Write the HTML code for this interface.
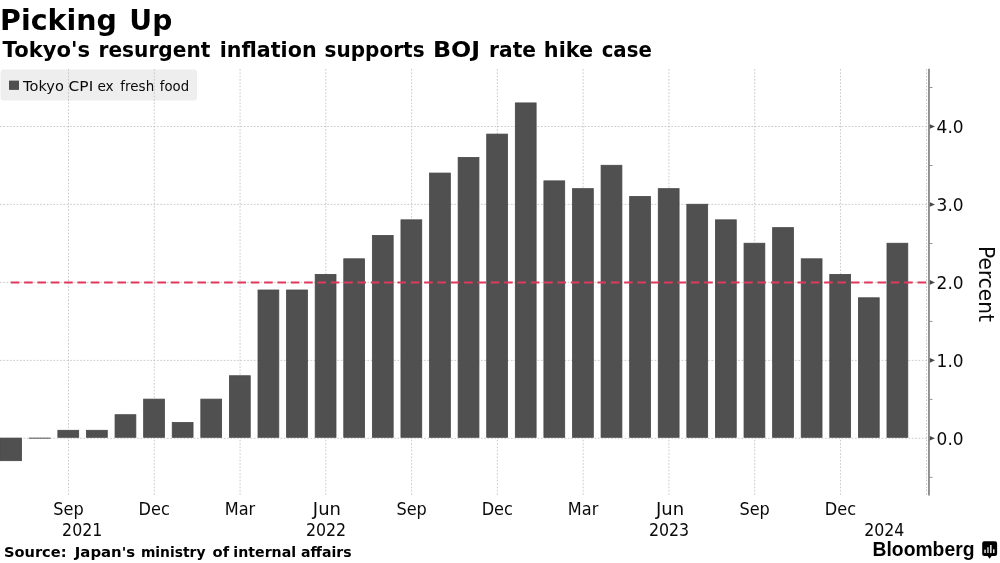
<!DOCTYPE html>
<html lang="en"><head><meta charset="utf-8"><title>Picking Up</title>
<style>
html,body{margin:0;padding:0;background:#fff;}
body{width:1000px;height:563px;overflow:hidden;position:relative;font-family:"DejaVu Sans","Liberation Sans",sans-serif;}
svg{position:absolute;left:0;top:0;display:block;}
.t{font-family:"DejaVu Sans","Liberation Sans",sans-serif;font-weight:bold;fill:#000;}
.c{font-family:"DejaVu Sans Condensed","Liberation Sans",sans-serif;fill:#0a0a0a;font-size:18.5px;}
.l{font-family:"DejaVu Sans","Liberation Sans",sans-serif;fill:#0a0a0a;}
.g{stroke:#bcbcbc;stroke-width:0.8;stroke-dasharray:1.67 1.67;fill:none;}
.b{fill:#505050;}
.s{stroke:#474747;stroke-width:0.8;}
</style></head><body>
<svg width="1000" height="563" viewBox="0 0 1000 563">
<rect x="0" y="0" width="1000" height="563" fill="#ffffff"/>
<rect x="0.6" y="69.5" width="196.4" height="31" rx="3" ry="3" fill="#eeeeee"/>
<line class="g" x1="68.53" y1="69" x2="68.53" y2="496"/>
<line class="g" x1="154.30" y1="69" x2="154.30" y2="496"/>
<line class="g" x1="240.07" y1="69" x2="240.07" y2="496"/>
<line class="g" x1="325.84" y1="69" x2="325.84" y2="496"/>
<line class="g" x1="411.61" y1="69" x2="411.61" y2="496"/>
<line class="g" x1="497.38" y1="69" x2="497.38" y2="496"/>
<line class="g" x1="583.15" y1="69" x2="583.15" y2="496"/>
<line class="g" x1="668.92" y1="69" x2="668.92" y2="496"/>
<line class="g" x1="754.69" y1="69" x2="754.69" y2="496"/>
<line class="g" x1="840.46" y1="69" x2="840.46" y2="496"/>
<line class="g" x1="926.5" y1="69" x2="926.5" y2="496"/>
<line class="g" x1="0" y1="126.5" x2="928" y2="126.5"/>
<line class="g" x1="0" y1="204.4" x2="928" y2="204.4"/>
<line class="g" x1="0" y1="282.4" x2="928" y2="282.4"/>
<line class="g" x1="0" y1="360.4" x2="928" y2="360.4"/>
<line class="g" x1="0" y1="438.3" x2="928" y2="438.3"/>
<rect class="b s" x="-0.10" y="438.10" width="21.60" height="22.58"/>
<rect class="b" x="28.89" y="437.65" width="21.60" height="1"/>
<rect class="b s" x="57.88" y="430.30" width="20.80" height="7.00"/>
<rect class="b s" x="86.47" y="430.30" width="20.80" height="7.00"/>
<rect class="b s" x="115.06" y="414.71" width="20.80" height="22.58"/>
<rect class="b s" x="143.65" y="399.12" width="20.80" height="38.18"/>
<rect class="b s" x="172.24" y="422.51" width="20.80" height="14.79"/>
<rect class="b s" x="200.83" y="399.12" width="20.80" height="38.18"/>
<rect class="b s" x="229.42" y="375.74" width="20.80" height="61.56"/>
<rect class="b s" x="258.01" y="290.00" width="20.80" height="147.30"/>
<rect class="b s" x="286.60" y="290.00" width="20.80" height="147.30"/>
<rect class="b s" x="315.19" y="274.40" width="20.80" height="162.89"/>
<rect class="b s" x="343.78" y="258.81" width="20.80" height="178.49"/>
<rect class="b s" x="372.37" y="235.43" width="20.80" height="201.87"/>
<rect class="b s" x="400.96" y="219.84" width="20.80" height="217.46"/>
<rect class="b s" x="429.55" y="173.07" width="20.80" height="264.23"/>
<rect class="b s" x="458.14" y="157.48" width="20.80" height="279.82"/>
<rect class="b s" x="486.73" y="134.10" width="20.80" height="303.20"/>
<rect class="b s" x="515.32" y="102.92" width="20.80" height="334.38"/>
<rect class="b s" x="543.91" y="180.87" width="20.80" height="256.44"/>
<rect class="b s" x="572.50" y="188.66" width="20.80" height="248.64"/>
<rect class="b s" x="601.09" y="165.28" width="20.80" height="272.02"/>
<rect class="b s" x="629.68" y="196.46" width="20.80" height="240.84"/>
<rect class="b s" x="658.27" y="188.66" width="20.80" height="248.64"/>
<rect class="b s" x="686.86" y="204.25" width="20.80" height="233.05"/>
<rect class="b s" x="715.45" y="219.84" width="20.80" height="217.46"/>
<rect class="b s" x="744.04" y="243.23" width="20.80" height="194.07"/>
<rect class="b s" x="772.63" y="227.63" width="20.80" height="209.67"/>
<rect class="b s" x="801.22" y="258.81" width="20.80" height="178.49"/>
<rect class="b s" x="829.81" y="274.40" width="20.80" height="162.89"/>
<rect class="b s" x="858.40" y="297.79" width="20.80" height="139.51"/>
<rect class="b s" x="886.99" y="243.23" width="20.80" height="194.07"/>
<line x1="10.8" y1="282.40" x2="926.4" y2="282.40" stroke="#e0395d" stroke-width="2" stroke-dasharray="8.6 4.733"/>
<rect x="928.1" y="68.8" width="1.75" height="426.7" fill="#858585"/>
<rect x="929.8" y="476.83" width="2.7" height="0.9" fill="#858585"/>
<path d="M929.8 436.00 L935 438.30 L929.8 440.60 Z" fill="#484848"/>
<text class="c" x="936.6" y="444.6" textLength="27" lengthAdjust="spacingAndGlyphs">0.0</text>
<rect x="929.8" y="398.88" width="2.7" height="0.9" fill="#858585"/>
<path d="M929.8 358.05 L935 360.35 L929.8 362.65 Z" fill="#484848"/>
<text class="c" x="936.6" y="366.7" textLength="27" lengthAdjust="spacingAndGlyphs">1.0</text>
<rect x="929.8" y="320.93" width="2.7" height="0.9" fill="#858585"/>
<path d="M929.8 280.10 L935 282.40 L929.8 284.70 Z" fill="#484848"/>
<text class="c" x="936.6" y="288.7" textLength="27" lengthAdjust="spacingAndGlyphs">2.0</text>
<rect x="929.8" y="242.98" width="2.7" height="0.9" fill="#858585"/>
<path d="M929.8 202.15 L935 204.45 L929.8 206.75 Z" fill="#484848"/>
<text class="c" x="936.6" y="210.8" textLength="27" lengthAdjust="spacingAndGlyphs">3.0</text>
<rect x="929.8" y="165.03" width="2.7" height="0.9" fill="#858585"/>
<path d="M929.8 124.20 L935 126.50 L929.8 128.80 Z" fill="#484848"/>
<text class="c" x="936.6" y="132.8" textLength="27" lengthAdjust="spacingAndGlyphs">4.0</text>
<rect x="929.8" y="87.07" width="2.7" height="0.9" fill="#858585"/>
<text class="l" font-size="21" transform="translate(978.8 246) rotate(90)" textLength="76" lengthAdjust="spacingAndGlyphs">Percent</text>
<text class="c" transform="translate(68.5 514.7) scale(0.97 1)" text-anchor="middle">Sep</text>
<text class="c" transform="translate(154.2 514.7) scale(0.97 1)" text-anchor="middle">Dec</text>
<text class="c" transform="translate(240.0 514.7) scale(0.97 1)" text-anchor="middle">Mar</text>
<text class="c" transform="translate(326.9 514.7) scale(1.08 1)" text-anchor="middle">Jun</text>
<text class="c" transform="translate(411.6 514.7) scale(0.97 1)" text-anchor="middle">Sep</text>
<text class="c" transform="translate(497.3 514.7) scale(0.97 1)" text-anchor="middle">Dec</text>
<text class="c" transform="translate(583.1 514.7) scale(0.97 1)" text-anchor="middle">Mar</text>
<text class="c" transform="translate(670.0 514.7) scale(1.08 1)" text-anchor="middle">Jun</text>
<text class="c" transform="translate(754.6 514.7) scale(0.97 1)" text-anchor="middle">Sep</text>
<text class="c" transform="translate(840.4 514.7) scale(0.97 1)" text-anchor="middle">Dec</text>
<text class="c" transform="translate(82.2 535.5) scale(0.95 1)" text-anchor="middle">2021</text>
<text class="c" transform="translate(326.0 535.5) scale(0.95 1)" text-anchor="middle">2022</text>
<text class="c" transform="translate(669.0 535.5) scale(0.95 1)" text-anchor="middle">2023</text>
<text class="c" transform="translate(884.3 535.5) scale(0.95 1)" text-anchor="middle">2024</text>
<rect x="9" y="80.6" width="10" height="9.3" fill="#4f4f4f"/>
<text class="l" font-size="14.4" y="90.7"><tspan x="23.10" textLength="40.81" lengthAdjust="spacingAndGlyphs">Tokyo</tspan> <tspan x="68.60" textLength="24.63" lengthAdjust="spacingAndGlyphs">CPI</tspan> <tspan x="97.39" textLength="16.31" lengthAdjust="spacingAndGlyphs">ex</tspan> <tspan x="120.37" textLength="33.80" lengthAdjust="spacingAndGlyphs">fresh</tspan> <tspan x="159.77" textLength="29.31" lengthAdjust="spacingAndGlyphs">food</tspan></text>
<text class="t" font-size="28" y="30"><tspan x="0.06" textLength="116.75" lengthAdjust="spacingAndGlyphs">Picking</tspan> <tspan x="129.29" textLength="43.00" lengthAdjust="spacingAndGlyphs">Up</tspan></text>
<text class="t" font-size="20" transform="translate(0 57) scale(1 1.055)"><tspan x="2.60" textLength="87.49" lengthAdjust="spacingAndGlyphs">Tokyo's</tspan> <tspan x="98.49" textLength="111.89" lengthAdjust="spacingAndGlyphs">resurgent</tspan> <tspan x="219.70" textLength="96.91" lengthAdjust="spacingAndGlyphs">inflation</tspan> <tspan x="324.60" textLength="100.00" lengthAdjust="spacingAndGlyphs">supports</tspan> <tspan x="432.92" textLength="47.19" lengthAdjust="spacingAndGlyphs">BOJ</tspan> <tspan x="489.09" textLength="46.91" lengthAdjust="spacingAndGlyphs">rate</tspan> <tspan x="543.84" textLength="49.32" lengthAdjust="spacingAndGlyphs">hike</tspan> <tspan x="601.66" textLength="50.16" lengthAdjust="spacingAndGlyphs">case</tspan></text>
<text class="t" font-size="14" y="556.7"><tspan x="3.96" textLength="62.58" lengthAdjust="spacingAndGlyphs">Source:</tspan> <tspan x="74.81" textLength="60.35" lengthAdjust="spacingAndGlyphs">Japan's</tspan> <tspan x="140.91" textLength="64.55" lengthAdjust="spacingAndGlyphs">ministry</tspan> <tspan x="212.57" textLength="16.53" lengthAdjust="spacingAndGlyphs">of</tspan> <tspan x="233.39" textLength="62.70" lengthAdjust="spacingAndGlyphs">internal</tspan> <tspan x="301.00" textLength="50.54" lengthAdjust="spacingAndGlyphs">affairs</tspan></text>
<text x="872.5" y="556" font-family="'Liberation Sans',sans-serif" font-weight="bold" font-size="19.8" fill="#000" textLength="102" lengthAdjust="spacingAndGlyphs">Bloomberg</text>
<g><path d="M984.3 541.3 h10.7 a2.1 2.1 0 0 1 2.1 2.1 v10.5 a2.1 2.1 0 0 1 -2.1 2.1 h-3.4 l-2 2.7 l-2 -2.7 h-3.3 a2.1 2.1 0 0 1 -2.1 -2.1 v-10.5 a2.1 2.1 0 0 1 2.1 -2.1 z" fill="#000"/>
<rect x="984.3" y="549.6" width="1.5" height="3.4" fill="#e6e6e6"/><rect x="987.2" y="547.2" width="1.5" height="5.8" fill="#cfcfcf"/><rect x="990.1" y="545" width="1.5" height="8.1" fill="#f4f4f4"/><rect x="993" y="549.3" width="1.5" height="3.7" fill="#e6e6e6"/></g>
</svg>
</body></html>
